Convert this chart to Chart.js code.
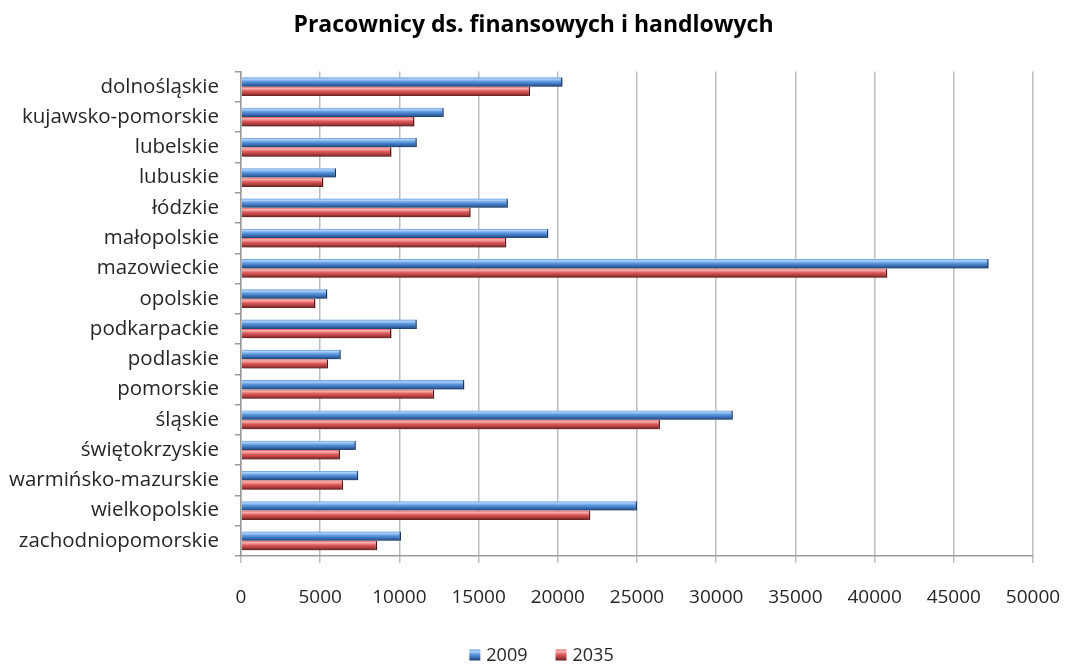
<!DOCTYPE html>
<html>
<head>
<meta charset="utf-8">
<script src="https://cdn.jsdelivr.net/npm/chart.js@4.4.1/dist/chart.umd.min.js"></script>
<style>
  html, body { margin: 0; padding: 0; background: #fff; }
  #wrap { width: 1067px; height: 664px; }
</style>
</head>
<body>
<div id="wrap"><canvas id="c" width="1067" height="664"></canvas></div>
<script>
const regions = [
  'dolnośląskie', 'kujawsko-pomorskie', 'lubelskie', 'lubuskie', 'łódzkie',
  'małopolskie', 'mazowieckie', 'opolskie', 'podkarpackie', 'podlaskie',
  'pomorskie', 'śląskie', 'świętokrzyskie', 'warmińsko-mazurskie',
  'wielkopolskie', 'zachodniopomorskie'
];
const seriesNames = ['2009', '2035'];
const values2009 = [20300, 12800, 11100, 6000, 16850, 19400, 47200, 5450,
                    11100, 6300, 14100, 31050, 7250, 7400, 25000, 10100];
const values2035 = [18250, 10950, 9500, 5200, 14500, 16750, 40800, 4700,
                    9500, 5500, 12200, 26450, 6250, 6450, 22050, 8600];
const xTicks = [0, 5000, 10000, 15000, 20000, 25000, 30000, 35000, 40000, 45000, 50000];

const FONT = "'Open Sans', 'Liberation Sans', sans-serif";
const TEXT = '#262626';

// glossy tube colours for each series: [highlight, body, shade, edge]
const palettes = [
  ['#b0d2f7', '#5a98e2', '#3566a8', '#1d3e6b'],
  ['#f9b4b4', '#e25c5c', '#a33a3a', '#5e1d1d']
];

function tubeGradient(ctx, top, bottom, p) {
  const g = ctx.createLinearGradient(0, top, 0, bottom);
  g.addColorStop(0, p[1]);
  g.addColorStop(0.18, p[0]);
  g.addColorStop(0.45, p[1]);
  g.addColorStop(0.78, p[2]);
  g.addColorStop(1, p[3]);
  return g;
}

// shaded bars with a soft drop shadow
const glossPlugin = {
  id: 'gloss',
  beforeDatasetsDraw(chart) {
    const ctx = chart.ctx;
    ctx.save();
    ctx.shadowColor = 'rgba(0,0,0,0.3)';
    ctx.shadowBlur = 5;
    ctx.shadowOffsetX = 2;
    ctx.shadowOffsetY = 3;
    chart.data.datasets.forEach((ds, di) => {
      chart.getDatasetMeta(di).data.forEach(bar => {
        const h = bar.height;
        const top = bar.y - h / 2;
        bar.options = Object.assign({}, bar.options, {
          backgroundColor: tubeGradient(ctx, top, top + h, palettes[di]),
          borderColor: palettes[di][3]
        });
      });
    });
  },
  afterDatasetsDraw(chart) {
    chart.ctx.restore();
  }
};

// legend row under the axis
const legendPlugin = {
  id: 'legendRow',
  afterDraw(chart) {
    const ctx = chart.ctx;
    ctx.save();
    ctx.font = '18px ' + FONT;
    ctx.textBaseline = 'middle';
    const y = 655, box = 11, gapBox = 6, gapItem = 28;
    const widths = chart.data.datasets.map(ds => box + gapBox + ctx.measureText(ds.label).width);
    const total = widths.reduce((a, b) => a + b, 0) + gapItem * (widths.length - 1);
    let x = (chart.width - total) / 2 + 8;
    chart.data.datasets.forEach((ds, i) => {
      ctx.fillStyle = tubeGradient(ctx, y - box / 2, y + box / 2, palettes[i]);
      ctx.fillRect(x, y - box / 2, box, box);
      ctx.fillStyle = TEXT;
      ctx.fillText(ds.label, x + box + gapBox, y + 1);
      x += widths[i] + gapItem;
    });
    ctx.restore();
  }
};

new Chart(document.getElementById('c'), {
  type: 'bar',
  data: {
    labels: regions,
    datasets: [
      { label: seriesNames[0], data: values2009, backgroundColor: palettes[0][1],
        borderColor: palettes[0][3], borderWidth: { right: 1.5 }, borderSkipped: 'start' },
      { label: seriesNames[1], data: values2035, backgroundColor: palettes[1][1],
        borderColor: palettes[1][3], borderWidth: { right: 1.5 }, borderSkipped: 'start' }
    ]
  },
  options: {
    indexAxis: 'y',
    responsive: false,
    animation: false,
    devicePixelRatio: 1,
    layout: { padding: 0 },
    datasets: { bar: { categoryPercentage: 0.62, barPercentage: 1 } },
    plugins: {
      legend: { display: false },
      tooltip: { enabled: false },
      title: {
        display: true,
        text: 'Pracownicy ds. finansowych i handlowych',
        color: '#000',
        font: { family: FONT, size: 23, weight: 'bold' },
        padding: { top: 12, bottom: 32 }
      }
    },
    scales: {
      x: {
        min: 0, max: 50000,
        afterBuildTicks(scale) { scale.ticks = xTicks.map(v => ({ value: v })); },
        afterFit(scale) {
          scale.height = 108;
          scale.paddingLeft = 0;
          scale.paddingRight = 0;
        },
        grid: { color: '#bdbdbd', lineWidth: 1.5, tickLength: 7, drawTicks: true },
        border: { color: '#9a9a9a', width: 1.5 },
        ticks: { color: TEXT, font: { family: FONT, size: 19 }, padding: 23,
                 maxRotation: 0, autoSkip: false, callback: v => String(v) }
      },
      y: {
        afterFit(scale) { scale.width = 241; },
        offset: true,
        grid: { display: true, drawOnChartArea: false, offset: true, color: '#9a9a9a',
                lineWidth: 1.5, tickLength: 6 },
        border: { color: '#9a9a9a', width: 1.5 },
        ticks: { color: TEXT, font: { family: FONT, size: 20.5 }, padding: 16, autoSkip: false }
      },
      // empty right-hand margin so the plot ends where the last grid line sits
      margin: {
        axis: 'y', position: 'right', display: true,
        afterFit(scale) { scale.width = 34; },
        grid: { display: false }, border: { display: false }, ticks: { display: false }
      }
    }
  },
  plugins: [glossPlugin, legendPlugin]
});
</script>
</body>
</html>
